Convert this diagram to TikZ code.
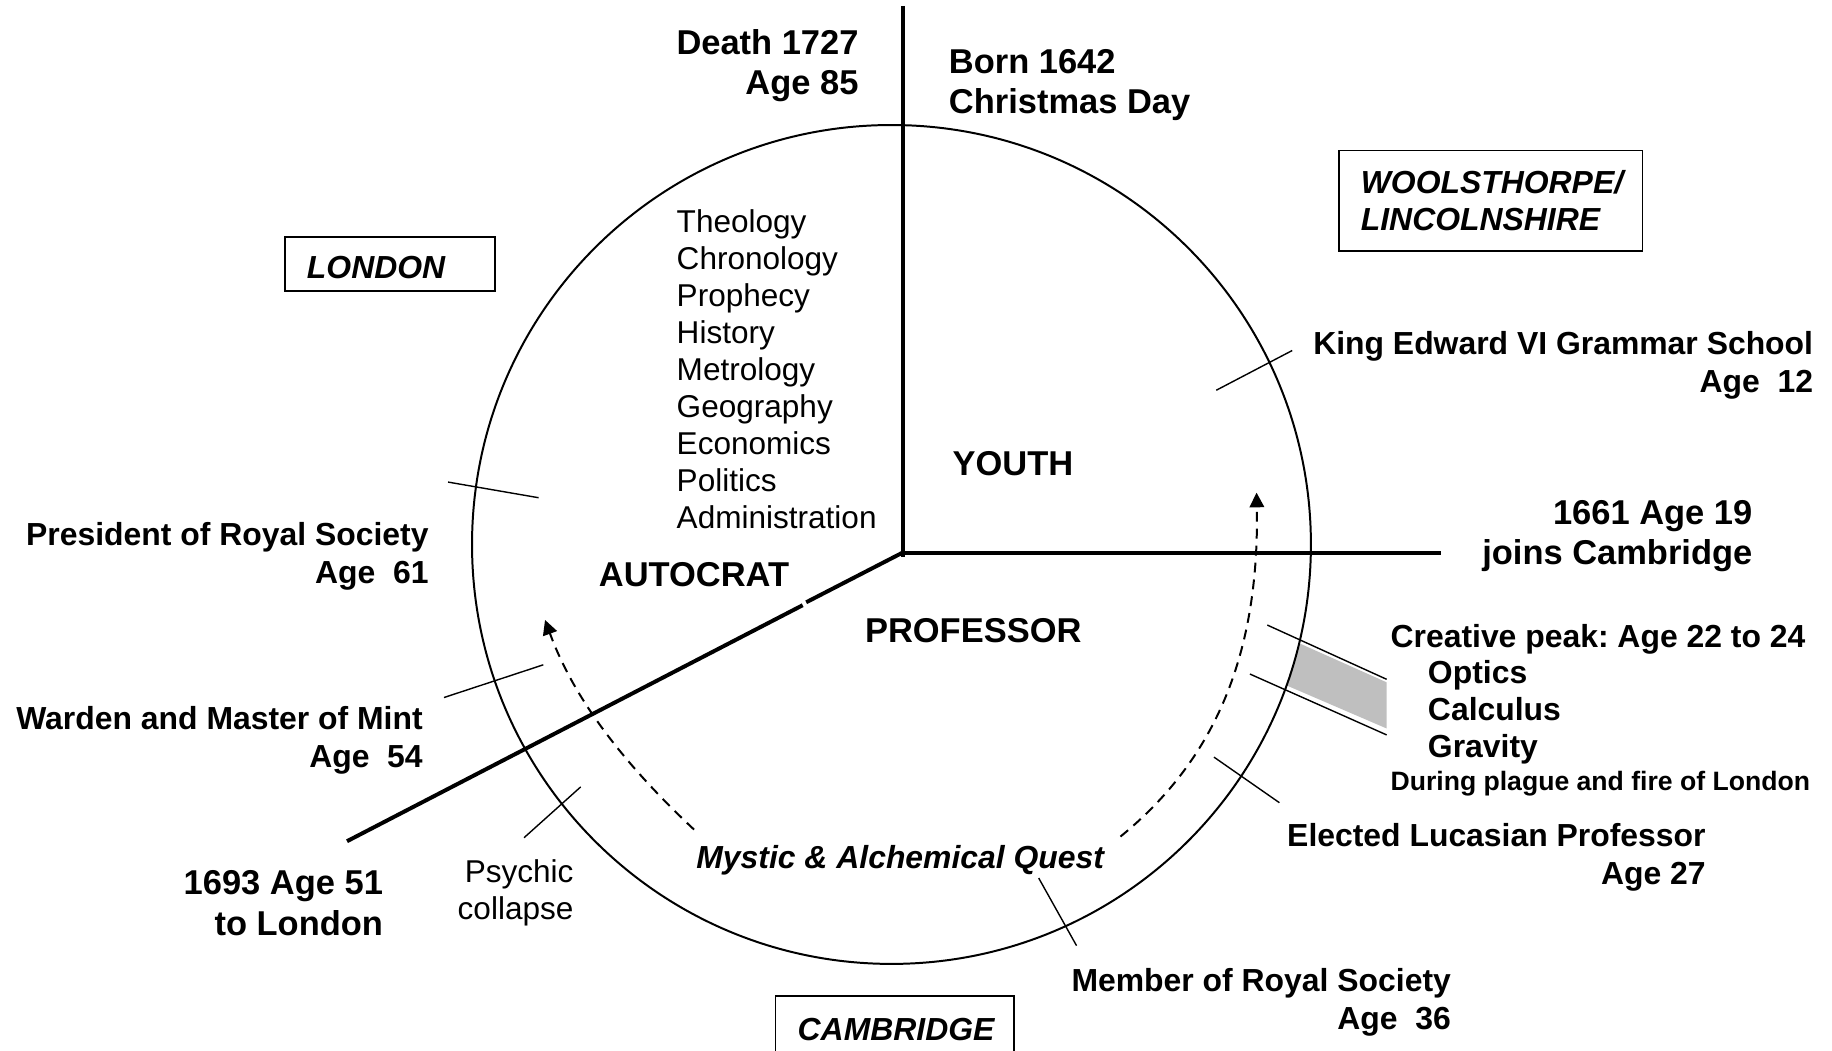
\documentclass[tikz,border=0pt]{standalone}
\usepackage{fontspec}
\setmainfont{Liberation Sans}
\frenchspacing
\usetikzlibrary{positioning,arrows.meta}
\tikzset{
  bigtext/.style={font=\bfseries\fontsize{29.5}{34.5}\selectfont, inner sep=0pt},
  labeltext/.style={font=\bfseries\fontsize{27.3}{32.5}\selectfont, inner sep=0pt},
  listtext/.style={font=\fontsize{27}{31.6}\selectfont, inner sep=0pt},
  placebox/.style={draw, line width=1.5pt, font=\bfseries\itshape\fontsize{27.3}{32}\selectfont, align=left, anchor=north west, inner xsep=19pt, inner ysep=0pt},
  eraline/.style={line width=3.4pt},
  tickline/.style={line width=1.2pt},
  questarrow/.style={line width=1.7pt, dash pattern=on 8.5pt off 6pt, -{Triangle[length=12.5pt,width=12.5pt]}}
}

\begin{document}
\begin{tikzpicture}[x=1pt,y=-1pt]
      \useasboundingbox (0,0) rectangle (1568,899);
      \clip (0,0) rectangle (1568,899);
      \fill[black!25] (1113,551) -- (1186.8,584) -- (1186.8,623.5) -- (1102,587) -- cycle;
      \draw[line width=1.7pt] (763,466) circle [radius=359];
      \coordinate (Hub) at (772.5,473);
      \coordinate (BirthEnd) at (772.5,5);
      \coordinate (CambridgeEnd) at (1233,473);
      \coordinate (LondonEnd) at (297,720);
      \draw[eraline] (BirthEnd) -- ++(0,472);
      \draw[eraline] (Hub) -- (CambridgeEnd);
      \draw[eraline] (Hub) -- (690,515.5);
      \draw[eraline] (687,518) -- (LondonEnd);
      \draw[tickline] (1041,334) -- (1106,300);
      \draw[tickline] (383.5,412.6) -- (461,426);
      \draw[tickline] (380,597) -- (465,569);
      \draw[tickline] (448.5,717) -- (497,673.5);
      \draw[tickline] (889,751.5) -- (921.4,809.4);
      \draw[tickline] (1039,648) -- (1095,687);
      \draw[tickline] (1084.7,535) -- (1186.8,581.4);
      \draw[tickline] (1069.8,576.9) -- (1186.8,629);
      \draw[questarrow] (959,716) .. controls (1040,650) and (1078,560) .. (1075.5,421.7);
      \draw[questarrow] (594,710) .. controls (530,650) and (490,595) .. (466.5,530.6);
      \node[bigtext, align=right, anchor=east] (Death) at (735,56) {Death 1727\\Age 85};
      \node[bigtext, align=left, anchor=west] (Born) at (812,73) {Born 1642\\Christmas Day};
      \node[listtext, align=left, anchor=west] (Pursuits) at (579,316) {Theology\\Chronology\\Prophecy\\History\\Metrology\\Geography\\Economics\\Politics\\Administration};
      \node[bigtext] (Youth) at (867,397) {YOUTH};
      \node[bigtext] (Autocrat) at (594,492) {AUTOCRAT};
      \node[bigtext] (Professor) at (833,540) {PROFESSOR};
      \node[labeltext, align=right, anchor=east] (School) at (1552,313) {King Edward VI Grammar School\\Age~~12};
      \node[bigtext, align=right, anchor=east] (Cambridge) at (1500,459) {1661 Age 19\\joins Cambridge};
      \node[labeltext, align=right, anchor=east] (President) at (367,476) {President of Royal Society\\Age~~61};
      \node[labeltext, align=right, anchor=east] (Mint) at (362,634) {Warden and Master of Mint\\Age~~54};
      \node[bigtext, align=right, anchor=east] (London) at (328,773) {1693 Age 51\\to London};
      \node[listtext, align=right, anchor=east] (Collapse) at (491,764) {Psychic\\collapse};
      \node[labeltext, font=\bfseries\itshape\fontsize{27.3}{32.5}\selectfont, anchor=base] (Quest) at (770.5,743) {Mystic \& Alchemical Quest};
      \node[labeltext, align=right, anchor=east] (Lucasian) at (1460,734) {Elected Lucasian Professor\\Age 27};
      \node[labeltext, align=right, anchor=east] (Member) at (1242,858) {Member of Royal Society\\Age~~36};
      \node[labeltext, font=\bfseries\fontsize{27.3}{31.3}\selectfont, align=left, anchor=west] (Peak) at (1190,594) {Creative peak: Age 22 to 24\\\hspace*{32pt}Optics\\\hspace*{32pt}Calculus\\\hspace*{32pt}Gravity};
      \node[labeltext, font=\bfseries\fontsize{22.75}{27}\selectfont, below=6pt of Peak.south west, anchor=north west] (Plague) {During plague and fire of London};
      \node[placebox, text width=142pt, text height=25pt, minimum height=46pt] (LondonBox) at (243,202) {LONDON};
      \node[placebox, text width=222pt, minimum height=86pt] (HomeBox) at (1145,128) {WOOLSTHORPE/\\LINCOLNSHIRE};
      \node[placebox, text width=166pt, minimum height=56pt] (CambridgeBox) at (663,852) {CAMBRIDGE};
    \end{tikzpicture}
\end{document}
